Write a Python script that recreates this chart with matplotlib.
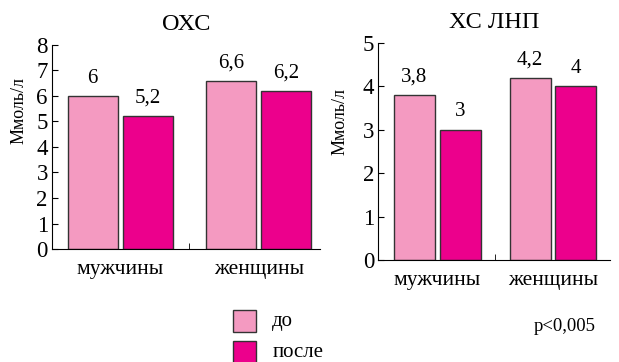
import matplotlib
matplotlib.use("Agg")
from matplotlib import pyplot as plt
from matplotlib.patches import Rectangle
import numpy as np

plt.rcParams['font.family'] = ['Liberation Serif', 'DejaVu Serif']

groups = ["мужчины", "женщины"]
series = ["до", "после"]
ohs_do = [6, 6.6]
ohs_posle = [5.2, 6.2]
lnp_do = [3.8, 4.2]
lnp_posle = [3, 4]
ohs_labels = [["6", "6,6"], ["5,2", "6,2"]]
lnp_labels = [["3,8", "4,2"], ["3", "4"]]

c_do = "#f49ac1"
c_posle = "#ec008c"
edge = "#333333"


def panel(ax, v_do, v_posle, labs, title, ymax, xlim, w, off):
    x = np.arange(len(groups))
    b1 = ax.bar(x - off, v_do, w, color=c_do, edgecolor=edge, linewidth=1)
    b2 = ax.bar(x + off, v_posle, w, color=c_posle, edgecolor=edge, linewidth=1)
    for bars, lab in zip((b1, b2), labs):
        for b, t in zip(bars, lab):
            ax.annotate(t, (b.get_x() + b.get_width() / 2, b.get_height()),
                        xytext=(0, 6), textcoords="offset points",
                        ha="center", va="bottom", fontsize=15)
    ax.set_xlim(*xlim)
    ax.set_ylim(0, ymax)
    ax.set_yticks(range(ymax + 1))
    ax.set_xticks(x)
    ax.set_xticklabels(groups, fontsize=15.5)
    ax.tick_params(axis="x", length=0, pad=8)
    ax.set_xticks([0.5], minor=True)
    ax.tick_params(axis="x", which="minor", length=4, direction="in")
    ax.tick_params(axis="y", labelsize=16.5, length=4, direction="in", pad=3)
    ax.spines["top"].set_visible(False)
    ax.spines["right"].set_visible(False)
    ax.set_ylabel("Ммоль/л", fontsize=13)
    ax.set_title(title, fontsize=17.5, pad=11)
    return ax


fig = plt.figure(figsize=(6.19, 3.62), dpi=100)
ax1 = fig.add_axes([0.084, 0.312, 0.433, 0.564])
ax2 = fig.add_axes([0.611, 0.282, 0.374, 0.599])

panel(ax1, ohs_do, ohs_posle, ohs_labels, "ОХС", 8, (-0.49, 1.44), 0.36, 0.198)
panel(ax2, lnp_do, lnp_posle, lnp_labels, "ХС ЛНП", 5, (-0.51, 1.49), 0.355, 0.198)
ax1.yaxis.set_label_coords(-0.09, 0.68)
ax2.yaxis.set_label_coords(-0.13, 0.64)

# legend
for i, (s, c) in enumerate(zip(series, [c_do, c_posle])):
    y = 0.083 - i * 0.086
    fig.patches.append(Rectangle((0.376, y), 0.037, 0.061, transform=fig.transFigure,
                                 facecolor=c, edgecolor=edge, linewidth=1))
    fig.text(0.44, y + 0.03, s, fontsize=15, va="center")
fig.text(0.862, 0.097, "p<0,005", fontsize=13.5, va="center")

fig.savefig("out.png", dpi=100)
